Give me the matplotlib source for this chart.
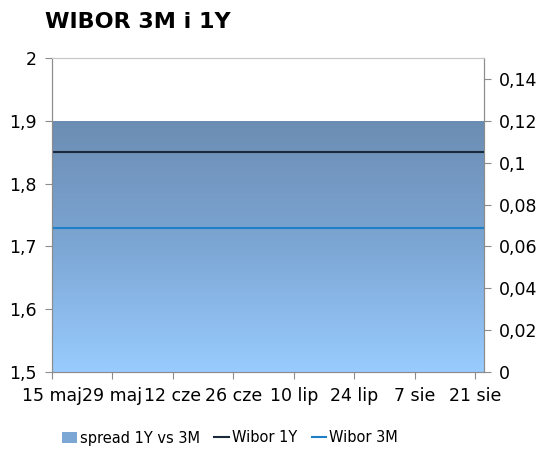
import numpy as np
import matplotlib
matplotlib.use("Agg")
import matplotlib.pyplot as plt
import matplotlib.dates as mdates
from matplotlib.colors import LinearSegmentedColormap
from matplotlib.patches import Patch
from matplotlib.lines import Line2D
from datetime import date

# data
dates = [date(2017, 5, 15), date(2017, 5, 29), date(2017, 6, 12), date(2017, 6, 26),
         date(2017, 7, 10), date(2017, 7, 24), date(2017, 8, 7), date(2017, 8, 21),
         date(2017, 8, 23)]
wibor_1y = [1.85, 1.85, 1.85, 1.85, 1.85, 1.85, 1.85, 1.85, 1.85]
wibor_3m = [1.73, 1.73, 1.73, 1.73, 1.73, 1.73, 1.73, 1.73, 1.73]
spread = [0.12, 0.12, 0.12, 0.12, 0.12, 0.12, 0.12, 0.12, 0.12]

tick_dates = [date(2017, 5, 15), date(2017, 5, 29), date(2017, 6, 12), date(2017, 6, 26),
              date(2017, 7, 10), date(2017, 7, 24), date(2017, 8, 7), date(2017, 8, 21)]
tick_labels = ["15 maj", "29 maj", "12 cze", "26 cze", "10 lip", "24 lip", "7 sie", "21 sie"]
left_ticks = [1.5, 1.6, 1.7, 1.8, 1.9, 2.0]
right_ticks = [0, 0.02, 0.04, 0.06, 0.08, 0.1, 0.12, 0.14]


def pl(v):
    s = ("%g" % v).replace(".", ",")
    return s


plt.rcParams["font.family"] = ["Verdana", "DejaVu Sans"]
AXIS_GRAY = "#8c8c8c"

fig = plt.figure(figsize=(5.46, 4.55), dpi=100)
ax = fig.add_axes([52 / 546, 83 / 455, 432 / 546, 314 / 455])
ax2 = ax.twinx()

x = mdates.date2num(dates)

# spread area with vertical gradient on the right axis
poly = ax2.fill_between(x, 0, spread, facecolor="none", edgecolor="none")
cmap = LinearSegmentedColormap.from_list("sp", ["#99ccff", "#7ca6d4", "#6c8db3"])
grad = np.linspace(0, 1, 256).reshape(-1, 1)
img = ax2.imshow(grad, cmap=cmap, origin="lower", aspect="auto",
                 extent=[x[0], x[-1], 0, max(spread)], zorder=1)
for p in poly.get_paths():
    img.set_clip_path(p, transform=ax2.transData)

ax2.set_ylim(0, 0.15)
ax2.set_yticks(right_ticks)
ax2.set_yticklabels([pl(v) for v in right_ticks], fontsize=12.5)

ax.set_zorder(ax2.get_zorder() + 1)
ax.patch.set_visible(False)
ax.plot(x, wibor_1y, color="#1b2a3a", lw=1.5)
ax.plot(x, wibor_3m, color="#1f80c8", lw=1.5)
ax.set_ylim(1.5, 2.0)
ax.set_yticks(left_ticks)
ax.set_yticklabels([pl(v) for v in left_ticks], fontsize=12.5)
ax.set_xlim(x[0], x[-1])
ax.set_xticks(mdates.date2num(tick_dates))
ax.set_xticklabels(tick_labels, fontsize=12.5)

for a in (ax, ax2):
    for s in a.spines.values():
        s.set_color(AXIS_GRAY)
        s.set_linewidth(0.8)
    a.spines["top"].set_color("#c8c8c8")
    a.tick_params(colors=AXIS_GRAY, labelcolor="black", length=5, width=0.8, pad=6)
ax.tick_params(axis="x", pad=6)

fig.text(45 / 546, 1 - 22 / 455, "WIBOR 3M i 1Y", fontsize=16, fontweight="bold",
         va="center", ha="left")

handles = [Patch(facecolor="#7ca6d4", edgecolor="none"),
           Line2D([], [], color="#1b2a3a", lw=1.5),
           Line2D([], [], color="#1f80c8", lw=1.5)]
fig.legend(handles, ["spread 1Y vs 3M", "Wibor 1Y", "Wibor 3M"], loc="center",
           bbox_to_anchor=(230 / 546, 1 - 438 / 455), ncol=3, frameon=False,
           fontsize=10.5, handlelength=1.0, handletextpad=0.2, columnspacing=1.0)

fig.savefig("out.png", dpi=100)
